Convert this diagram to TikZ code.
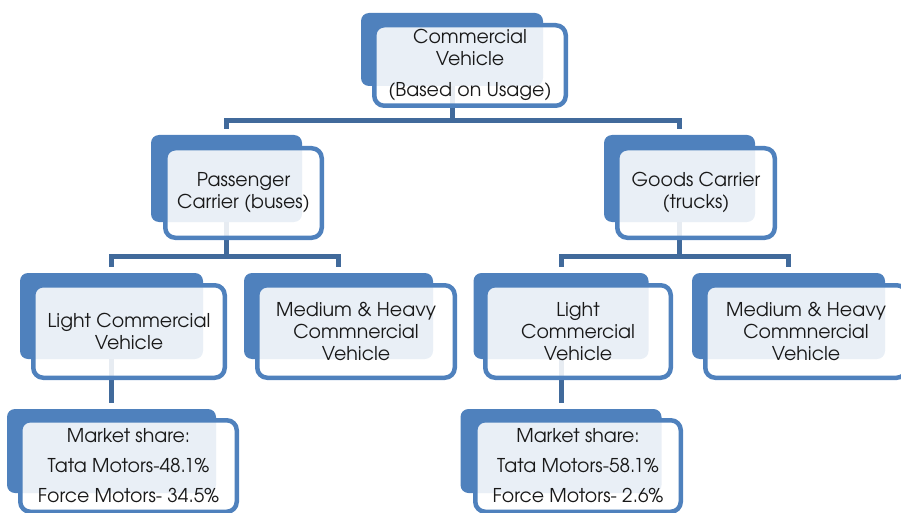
\documentclass[tikz,border=0pt]{standalone}
\usepackage{fontspec}
\setmainfont{TeX Gyre Adventor}
\definecolor{boxblue}{RGB}{79,129,189}
\definecolor{linkblue}{RGB}{65,106,155}
\definecolor{textgray}{RGB}{25,25,25}

\tikzset{
    backbox/.style={fill=boxblue, rounded corners=8pt, inner sep=0pt},
    frontbox/.style={draw=boxblue, line width=4.5pt, fill=white, fill opacity=0.88, text opacity=1,
        rounded corners=10pt, inner sep=0pt, align=center, text=textgray,
        font=\fontsize{19}{22}\selectfont},
    link/.style={draw=linkblue, line width=5pt}
}

\begin{document}
\begin{tikzpicture}[x=1pt,y=-1pt]
    \useasboundingbox (0,0) rectangle (901,513);
    \clip (0,0) rectangle (901,513);

    % back boxes
    \node[backbox, minimum width=182pt, minimum height=73pt] (cvb) at (452,49.5) {};
    \node[backbox, minimum width=151pt, minimum height=87pt] (pcb) at (226.5,178.5) {};
    \node[backbox, minimum width=151pt, minimum height=87pt] (gcb) at (679.5,178.5) {};
    \node[backbox, minimum width=183pt, minimum height=86pt] (lclb) at (111.5,316) {};
    \node[backbox, minimum width=189pt, minimum height=86pt] (mhlb) at (338.5,316) {};
    \node[backbox, minimum width=175pt, minimum height=86pt] (lcrb) at (561,316) {};
    \node[backbox, minimum width=193pt, minimum height=86pt] (mhrb) at (788.5,316) {};
    \node[backbox, minimum width=209pt, minimum height=84pt] (mslb) at (111.5,451) {};
    \node[backbox, minimum width=201pt, minimum height=84pt] (msrb) at (561,451) {};

    % connectors
    \draw[link] (cvb.south) -- ++(0,34) coordinate (j1);
    \draw[link, shorten <=6pt, shorten >=6pt] (pcb.north) |- (j1) -| (gcb.north);
    \draw[link] (pcb.south) -- ++(0,34) coordinate (j2);
    \draw[link, shorten <=6pt, shorten >=6pt] (lclb.north) |- (j2) -| (mhlb.north);
    \draw[link] (gcb.south) -- ++(0,34) coordinate (j3);
    \draw[link, shorten <=6pt, shorten >=6pt] (lcrb.north) |- (j3) -| (mhrb.north);
    \draw[link, shorten >=6pt] (lclb.south) -- (mslb.north);
    \draw[link, shorten >=6pt] (lcrb.south) -- (msrb.north);

    % front boxes
    \node[frontbox, minimum width=191.5pt, minimum height=80.5pt] (cv) at (470,65.5)
        {Commercial\\Vehicle\\[9pt](Based on Usage)};
    \node[frontbox, minimum width=156.5pt, minimum height=89.5pt] (pc) at (243.5,193)
        {Passenger\\Carrier (buses)};
    \node[frontbox, minimum width=157.5pt, minimum height=89.5pt] (gc) at (696,193)
        {Goods Carrier\\(trucks)};
    \node[frontbox, minimum width=191.5pt, minimum height=92.5pt] (lcl) at (129,331.5)
        {Light Commercial\\Vehicle};
    \node[frontbox, minimum width=197.5pt, minimum height=92.5pt] (mhl) at (356,331.5)
        {Medium \& Heavy\\Commnercial\\Vehicle};
    \node[frontbox, minimum width=185.5pt, minimum height=92.5pt] (lcr) at (578,331.5)
        {Light\\Commercial\\Vehicle};
    \node[frontbox, minimum width=201.5pt, minimum height=92.5pt] (mhr) at (806,331.5)
        {Medium \& Heavy\\Commnercial\\Vehicle};
    \node[frontbox, minimum width=216.5pt, minimum height=91.5pt] (msl) at (128.5,466)
        {Market share:\\[8pt]Tata Motors-48.1\%\\[8pt]Force Motors- 34.5\%};
    \node[frontbox, minimum width=205.5pt, minimum height=91.5pt] (msr) at (578,466)
        {Market share:\\[8pt]Tata Motors-58.1\%\\[8pt]Force Motors- 2.6\%};
\end{tikzpicture}
\end{document}
